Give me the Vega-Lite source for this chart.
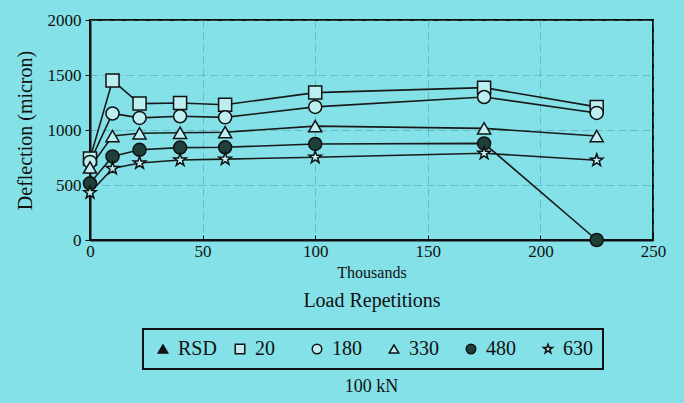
{
  "$schema": "https://vega.github.io/schema/vega-lite/v6.json",
  "width": 563,
  "height": 220,
  "autosize": {"type": "none"},
  "padding": {"left": 90, "top": 20, "right": 31, "bottom": 163},
  "background": "#84e1e8",
  "config": {
    "font": "Liberation Serif",
    "view": {"stroke": "#111111", "strokeWidth": 2},
    "axis": {
      "labelFont": "Liberation Serif",
      "titleFont": "Liberation Serif",
      "labelColor": "#111111",
      "titleColor": "#111111",
      "domainColor": "#111111",
      "domainWidth": 2,
      "tickColor": "#111111",
      "gridColor": "#3f8f96",
      "gridOpacity": 0.45,
      "gridDash": [8, 4],
      "gridWidth": 1
    },
    "legend": {
      "orient": "none",
      "legendX": 53,
      "legendY": 309,
      "direction": "horizontal",
      "strokeColor": "#111111",
      "strokeWidth": 2,
      "fillColor": "#84e1e8",
      "padding": 10,
      "labelFont": "Liberation Serif",
      "labelFontSize": 20,
      "labelColor": "#111111",
      "labelOffset": 5,
      "symbolSize": 90,
      "symbolStrokeWidth": 1.5,
      "gridAlign": "all",
      "columnPadding": 13
    }
  },
  "title": {
    "text": "100 kN",
    "orient": "bottom",
    "anchor": "middle",
    "font": "Liberation Serif",
    "fontSize": 18,
    "fontWeight": "normal",
    "color": "#111111",
    "offset": 8
  },
  "data": {
    "values": [
      {"series": "20", "reps": 0, "deflection": 740},
      {"series": "20", "reps": 10, "deflection": 1450},
      {"series": "20", "reps": 22, "deflection": 1240},
      {"series": "20", "reps": 40, "deflection": 1245},
      {"series": "20", "reps": 60, "deflection": 1230},
      {"series": "20", "reps": 100, "deflection": 1340},
      {"series": "20", "reps": 175, "deflection": 1385},
      {"series": "20", "reps": 225, "deflection": 1210},
      {"series": "180", "reps": 0, "deflection": 710},
      {"series": "180", "reps": 10, "deflection": 1150},
      {"series": "180", "reps": 22, "deflection": 1110},
      {"series": "180", "reps": 40, "deflection": 1125},
      {"series": "180", "reps": 60, "deflection": 1115},
      {"series": "180", "reps": 100, "deflection": 1210},
      {"series": "180", "reps": 175, "deflection": 1300},
      {"series": "180", "reps": 225, "deflection": 1155},
      {"series": "330", "reps": 0, "deflection": 660},
      {"series": "330", "reps": 10, "deflection": 945},
      {"series": "330", "reps": 22, "deflection": 970},
      {"series": "330", "reps": 40, "deflection": 975},
      {"series": "330", "reps": 60, "deflection": 980},
      {"series": "330", "reps": 100, "deflection": 1035},
      {"series": "330", "reps": 175, "deflection": 1015},
      {"series": "330", "reps": 225, "deflection": 945},
      {"series": "480", "reps": 0, "deflection": 515},
      {"series": "480", "reps": 10, "deflection": 760},
      {"series": "480", "reps": 22, "deflection": 820},
      {"series": "480", "reps": 40, "deflection": 840},
      {"series": "480", "reps": 60, "deflection": 843},
      {"series": "480", "reps": 100, "deflection": 873},
      {"series": "480", "reps": 175, "deflection": 878},
      {"series": "480", "reps": 225, "deflection": 0},
      {"series": "630", "reps": 0, "deflection": 430},
      {"series": "630", "reps": 10, "deflection": 650},
      {"series": "630", "reps": 22, "deflection": 700},
      {"series": "630", "reps": 40, "deflection": 727},
      {"series": "630", "reps": 60, "deflection": 735},
      {"series": "630", "reps": 100, "deflection": 752},
      {"series": "630", "reps": 175, "deflection": 788},
      {"series": "630", "reps": 225, "deflection": 725}
    ]
  },
  "layer": [
    {
      "mark": {"type": "line", "color": "#1a1a1a", "strokeWidth": 1.6},
      "encoding": {
        "x": {
          "field": "reps",
          "type": "quantitative",
          "scale": {"domain": [0, 250], "nice": false},
          "axis": {
            "orient": "bottom",
            "values": [0, 50, 100, 150, 200, 250],
            "format": "d",
            "labelFlush": false,
            "title": "Thousands",
            "titleFontSize": 16,
            "titleFontWeight": "normal",
            "titlePadding": 5,
            "labelFontSize": 17,
            "labelPadding": 8,
            "tickSize": -5,
            "grid": true
          }
        },
        "y": {
          "field": "deflection",
          "type": "quantitative",
          "scale": {"domain": [0, 2000], "nice": false},
          "axis": {
            "values": [0, 500, 1000, 1500, 2000],
            "format": "d",
            "labelFlush": false,
            "title": "Deflection (micron)",
            "titleFontSize": 20,
            "titleFontWeight": "normal",
            "titlePadding": 12,
            "labelFontSize": 17,
            "labelPadding": 4,
            "tickSize": 5,
            "grid": true
          }
        },
        "detail": {"field": "series"}
      }
    },
    {
      "mark": {"type": "point", "filled": true, "size": 170, "strokeWidth": 1.5, "opacity": 1},
      "encoding": {
        "x": {
          "field": "reps",
          "type": "quantitative",
          "scale": {"domain": [0, 250], "nice": false},
          "axis": {
            "orient": "bottom",
            "title": "Load Repetitions",
            "titleFontSize": 20,
            "titleFontWeight": "normal",
            "titlePadding": 50,
            "labels": false,
            "ticks": false,
            "domain": false,
            "grid": false
          }
        },
        "y": {
          "field": "deflection",
          "type": "quantitative",
          "scale": {"domain": [0, 2000], "nice": false}
        },
        "shape": {
          "field": "series",
          "type": "nominal",
          "scale": {
            "domain": ["RSD", "20", "180", "330", "480", "630"],
            "range": ["triangle-up", "square", "circle", "triangle-up", "circle", "M0,-1L0.235,-0.324L0.951,-0.309L0.38,0.124L0.588,0.809L0,0.4L-0.588,0.809L-0.38,0.124L-0.951,-0.309L-0.235,-0.324Z"]
          },
          "legend": {"title": null}
        },
        "fill": {
          "field": "series",
          "type": "nominal",
          "scale": {
            "domain": ["RSD", "20", "180", "330", "480", "630"],
            "range": ["#111111", "#bdeff2", "#bdeff2", "#bdeff2", "#1d4038", "#bdeff2"]
          },
          "legend": {"title": null}
        },
        "stroke": {
          "field": "series",
          "type": "nominal",
          "scale": {
            "domain": ["RSD", "20", "180", "330", "480", "630"],
            "range": ["#111111", "#111111", "#111111", "#111111", "#111111", "#111111"]
          },
          "legend": {"title": null}
        }
      }
    }
  ],
  "resolve": {"axis": {"x": "independent"}}
}
